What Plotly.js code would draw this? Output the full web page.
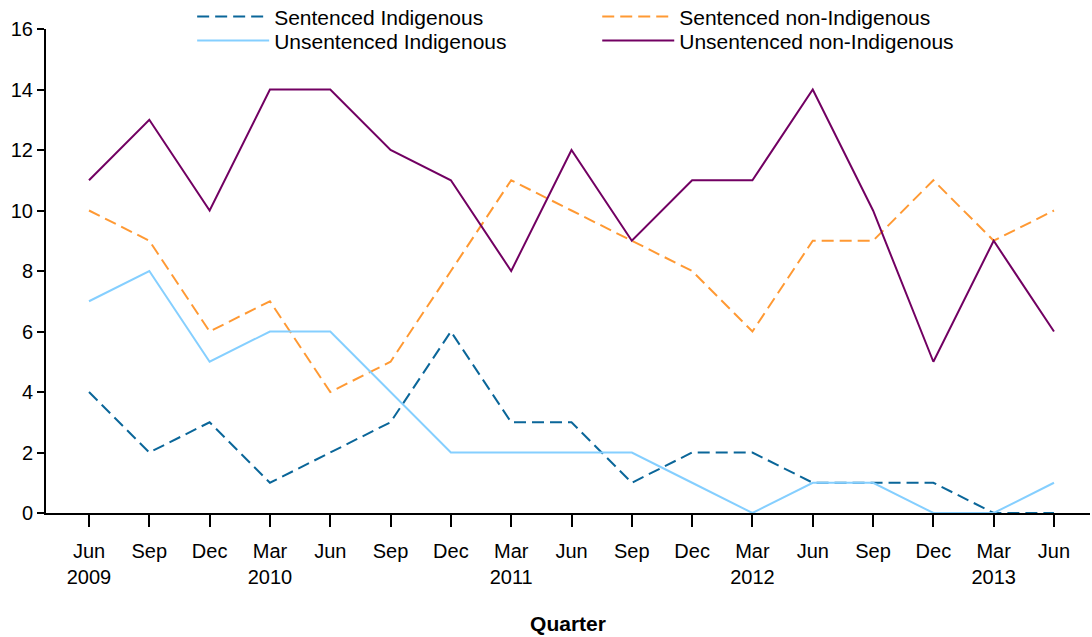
<!DOCTYPE html>
<html>
<head>
<meta charset="utf-8">
<script src="https://cdn.plot.ly/plotly-3.0.1.min.js"></script>
<style>html,body{margin:0;padding:0;background:#fff;}#chart{width:1092px;height:637px;}</style>
</head>
<body>
<div id="chart"></div>
<script>
const quarterLabels = ["Jun<br>2009","Sep","Dec","Mar<br>2010","Jun","Sep","Dec","Mar<br>2011","Jun","Sep","Dec","Mar<br>2012","Jun","Sep","Dec","Mar<br>2013","Jun"];
const quarterIndex = quarterLabels.map((_, i) => i);

const sentencedIndigenous = [4, 2, 3, 1, 2, 3, 6, 3, 3, 1, 2, 2, 1, 1, 1, 0, 0];
const sentencedNonIndigenous = [10, 9, 6, 7, 4, 5, 8, 11, 10, 9, 8, 6, 9, 9, 11, 9, 10];
const unsentencedIndigenous = [7, 8, 5, 6, 6, 4, 2, 2, 2, 2, 1, 0, 1, 1, 0, 0, 1];
const unsentencedNonIndigenous = [11, 13, 10, 14, 14, 12, 11, 8, 12, 9, 11, 11, 14, 10, 5, 9, 6];

const yTicks = [0, 2, 4, 6, 8, 10, 12, 14, 16];

const font = "Liberation Sans, Arial, sans-serif";

const traces = [
  {name: "Sentenced Indigenous", x: quarterIndex, y: sentencedIndigenous, mode: "lines",
   line: {color: "#0A6699", width: 2, dash: "12px,6px"}, legend: "legend"},
  {name: "Sentenced non-Indigenous", x: quarterIndex, y: sentencedNonIndigenous, mode: "lines",
   line: {color: "#FF9933", width: 2, dash: "12px,6px"}, legend: "legend2"},
  {name: "Unsentenced Indigenous", x: quarterIndex, y: unsentencedIndigenous, mode: "lines",
   line: {color: "#85CFFF", width: 2}, legend: "legend3"},
  {name: "Unsentenced non-Indigenous", x: quarterIndex, y: unsentencedNonIndigenous, mode: "lines",
   line: {color: "#720062", width: 2}, legend: "legend4"}
];

function legendBox(x, y) {
  return {x: x, y: y, xanchor: "left", yanchor: "top", orientation: "v",
          font: {family: font, size: 21, color: "#000"}, bgcolor: "rgba(0,0,0,0)",
          itemwidth: 72, tracegroupgap: 0};
}

const layout = {
  width: 1092, height: 637,
  margin: {l: 46, r: 2, t: 29, b: 124, autoexpand: false},
  paper_bgcolor: "#fff", plot_bgcolor: "#fff",
  font: {family: font, size: 20, color: "#000"},
  showlegend: true,
  legend: legendBox(0.140, 1.0674),
  legend2: legendBox(0.528, 1.0674),
  legend3: legendBox(0.140, 1.0178),
  legend4: legendBox(0.528, 1.0178),
  xaxis: {
    range: [-0.713, 16.597],
    tickmode: "array", tickvals: quarterIndex, ticktext: quarterLabels,
    showgrid: false, zeroline: false,
    showline: true, linecolor: "#000", linewidth: 2,
    ticks: "outside", ticklen: 12, tickwidth: 2, tickcolor: "#000",
    ticklabelstandoff: 7,
    tickfont: {family: font, size: 20, color: "#000"},
    title: {text: "Quarter", font: {family: font, size: 21, color: "#000", weight: "bold"}, standoff: 29}
  },
  yaxis: {
    range: [0, 16],
    tickmode: "array", tickvals: yTicks,
    showgrid: false, zeroline: false,
    showline: true, linecolor: "#000", linewidth: 2,
    ticks: "outside", ticklen: 7, tickwidth: 2, tickcolor: "#000",
    tickfont: {family: font, size: 20, color: "#000"}
  }
};

Plotly.newPlot("chart", traces, layout, {displayModeBar: false, staticPlot: true});
</script>
</body>
</html>
